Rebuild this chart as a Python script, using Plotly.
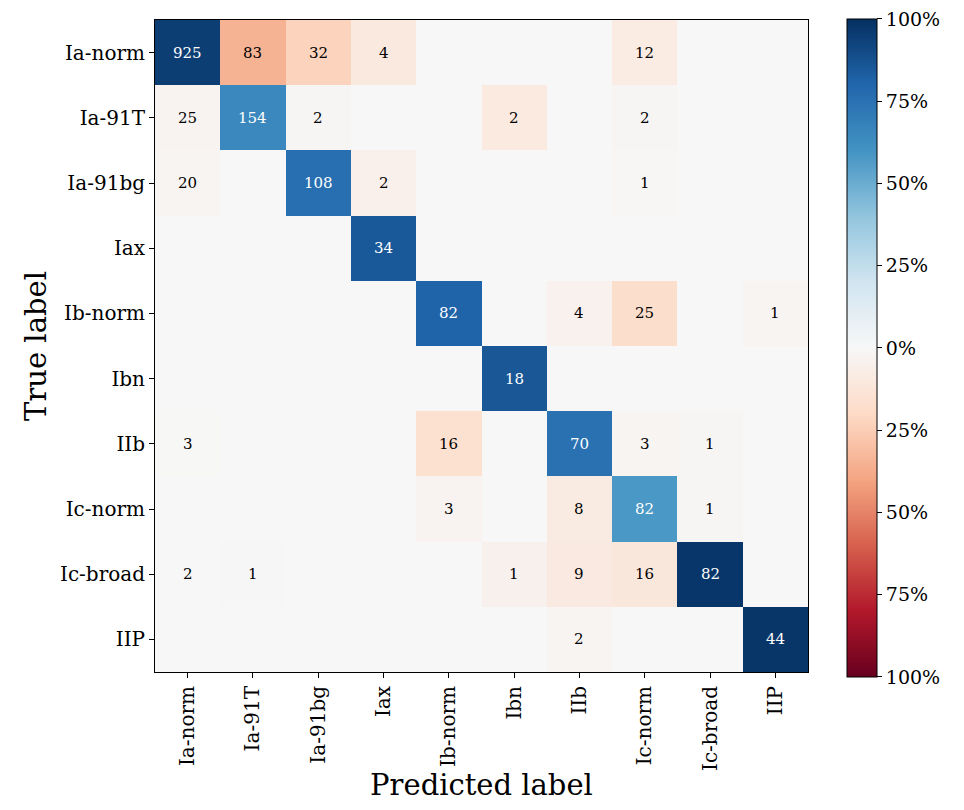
import plotly.graph_objects as go
import numpy as np

labels = ["Ia-norm", "Ia-91T", "Ia-91bg", "Iax", "Ib-norm",
          "Ibn", "IIb", "Ic-norm", "Ic-broad", "IIP"]

# rows = true label, columns = predicted label
row_ia_norm = [925, 83, 32, 4, 0, 0, 0, 12, 0, 0]
row_ia_91t = [25, 154, 2, 0, 0, 2, 0, 2, 0, 0]
row_ia_91bg = [20, 0, 108, 2, 0, 0, 0, 1, 0, 0]
row_iax = [0, 0, 0, 34, 0, 0, 0, 0, 0, 0]
row_ib_norm = [0, 0, 0, 0, 82, 0, 4, 25, 0, 1]
row_ibn = [0, 0, 0, 0, 0, 18, 0, 0, 0, 0]
row_iib = [3, 0, 0, 0, 16, 0, 70, 3, 1, 0]
row_ic_norm = [0, 0, 0, 0, 3, 0, 8, 82, 1, 0]
row_ic_broad = [2, 1, 0, 0, 0, 1, 9, 16, 82, 0]
row_iip = [0, 0, 0, 0, 0, 0, 2, 0, 0, 44]

cbar_ticks = [-1, -0.75, -0.5, -0.25, 0, 0.25, 0.5, 0.75, 1]
cbar_text = ["100%", "75%", "50%", "25%", "0%", "25%", "50%", "75%", "100%"]

rdbu = ["#67001f", "#b2182b", "#d6604d", "#f4a582", "#fddbc7", "#f7f7f7",
        "#d1e5f0", "#92c5de", "#4393c3", "#2166ac", "#053061"]

counts = np.array([row_ia_norm, row_ia_91t, row_ia_91bg, row_iax, row_ib_norm,
                   row_ibn, row_iib, row_ic_norm, row_ic_broad, row_iip])

# normalise by predicted column, off-diagonal shown as negative (red)
frac = counts / counts.sum(axis=0, keepdims=True)
signed = -frac.copy()
np.fill_diagonal(signed, np.diag(frac))

scale = [[i / (len(rdbu) - 1), c] for i, c in enumerate(rdbu)]

fig = go.Figure(go.Heatmap(
    z=signed, x=labels, y=labels,
    zmin=-1, zmax=1, colorscale=scale,
    hovertemplate="%{y} -> %{x}<extra></extra>",
    colorbar=dict(
        x=1.06, xanchor="left", xref="paper", xpad=0,
        y=0.497, yanchor="middle", len=658, lenmode="pixels", ypad=0,
        thickness=30, outlinecolor="black", outlinewidth=1,
        tickvals=cbar_ticks, ticktext=cbar_text,
        ticks="outside", ticklen=5, tickcolor="black",
        ticklabeloverflow="allow",
        tickfont=dict(family="DejaVu Serif", size=19, color="black"),
    ),
))

annotations = []
for i, yl in enumerate(labels):
    for j, xl in enumerate(labels):
        n = counts[i, j]
        if n == 0:
            continue
        col = "white" if abs(signed[i, j]) > 0.5 else "black"
        annotations.append(dict(
            x=xl, y=yl, xref="x", yref="y", text=str(n), showarrow=False,
            font=dict(family="DejaVu Serif", size=15, color=col),
        ))

# page body adds an 8px offset, so the figure is a bit smaller than the window
fig.update_layout(
    width=948, height=794,
    margin=dict(l=147, r=148, t=12, b=130, autoexpand=False),
    paper_bgcolor="white", plot_bgcolor="white",
    font=dict(family="DejaVu Serif", color="black"),
    annotations=annotations,
)
fig.update_xaxes(
    title=dict(text="Predicted label", font=dict(size=29), standoff=6),
    tickangle=-90, tickfont=dict(size=20), automargin=False,
    ticks="outside", ticklen=5, tickcolor="black",
    showline=True, linecolor="black", linewidth=1, mirror=True,
    showgrid=False, zeroline=False,
)
fig.update_yaxes(
    title=dict(text="True label", font=dict(size=29), standoff=4),
    autorange="reversed", tickfont=dict(size=20), automargin=False,
    ticks="outside", ticklen=5, tickcolor="black",
    showline=True, linecolor="black", linewidth=1, mirror=True,
    showgrid=False, zeroline=False,
)

fig.write_html("out.html")
